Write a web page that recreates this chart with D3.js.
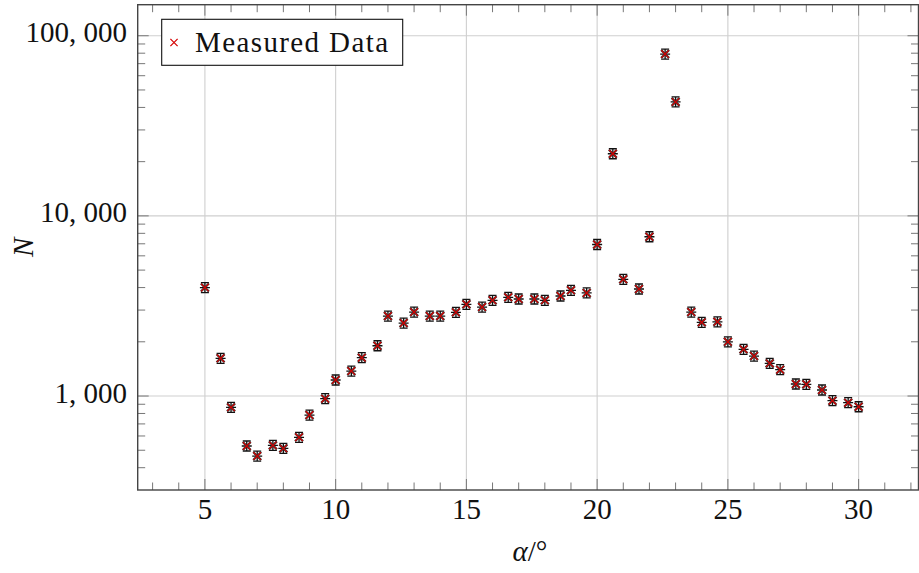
<!DOCTYPE html>
<html>
<head>
<meta charset="utf-8">
<script src="https://cdn.jsdelivr.net/npm/d3@7"></script>
<style>
  html, body { margin: 0; padding: 0; background: #fff; }
  svg text { font-family: "Liberation Serif", "Times New Roman", "DejaVu Serif", serif; fill: #111; }
</style>
</head>
<body>
<script>
var width = 919,
    height = 573;

// measured data: angle (deg) and counts
var alpha = [5, 5.6, 6, 6.6, 7, 7.6, 8, 8.6, 9, 9.6, 10, 10.6, 11, 11.6, 12, 12.6, 13, 13.6,
             14, 14.6, 15, 15.6, 16, 16.6, 17, 17.6, 18, 18.6, 19, 19.6, 20, 20.6, 21, 21.6,
             22, 22.6, 23, 23.6, 24, 24.6, 25, 25.6, 26, 26.6, 27, 27.6, 28, 28.6, 29, 29.6, 30];
var counts = [4000, 1620, 865, 528, 464, 532, 512, 590, 784, 966, 1227, 1376, 1632, 1901, 2778, 2541, 2924, 2778,
              2778, 2915, 3228, 3119, 3398, 3530, 3455, 3455, 3398, 3590, 3862, 3733, 6934, 22130, 4447, 3927,
              7656, 79100, 42950, 2924, 2565, 2583, 2000, 1816, 1667, 1518, 1400, 1166, 1161, 1080, 942, 918, 872];

var xTicks = [5, 10, 15, 20, 25, 30];
var yTicks = [1000, 10000, 100000];
var yTickLabels = ["1, 000", "10, 000", "100, 000"];
var legendLabel = "Measured Data";

var plotLeft = 137.7, plotRight = 918.5, plotTop = 4.7, plotBottom = 490;

var svg = d3.select("body").append("svg")
            .attr("width", width)
            .attr("height", height)
            .attr("font-family", "Liberation Serif, serif");

var x = d3.scaleLinear().domain([2.43, 32.29]).range([plotLeft, plotRight]);
var y = d3.scaleLog().domain([300.8, 148700]).range([plotBottom, plotTop]);

// minor ticks
var xMinor = d3.range(3, 33, 1).filter(function(d) { return xTicks.indexOf(d) < 0; });
var yMinor = [];
[100, 1000, 10000, 100000].forEach(function(dec) {
  for (var k = 2; k <= 9; k++) {
    var v = dec * k;
    if (v > 300.8 && v < 148700) yMinor.push(v);
  }
});

// grid
var grid = svg.append("g").attr("stroke", "#cfcfcf").attr("stroke-width", 1.1);
grid.selectAll(".gx").data(xTicks).enter().append("line")
    .attr("x1", function(d) { return x(d); }).attr("x2", function(d) { return x(d); })
    .attr("y1", plotTop).attr("y2", plotBottom);
grid.selectAll(".gy").data(yTicks).enter().append("line")
    .attr("y1", function(d) { return y(d); }).attr("y2", function(d) { return y(d); })
    .attr("x1", plotLeft).attr("x2", plotRight);

// ticks (inside, on all four sides)
var ticks = svg.append("g").attr("stroke", "#777").attr("stroke-width", 1);
xMinor.forEach(function(d) {
  ticks.append("line").attr("x1", x(d)).attr("x2", x(d)).attr("y1", plotBottom).attr("y2", plotBottom - 7.5);
  ticks.append("line").attr("x1", x(d)).attr("x2", x(d)).attr("y1", plotTop).attr("y2", plotTop + 7.5);
});
xTicks.forEach(function(d) {
  ticks.append("line").attr("x1", x(d)).attr("x2", x(d)).attr("y1", plotBottom).attr("y2", plotBottom - 11);
  ticks.append("line").attr("x1", x(d)).attr("x2", x(d)).attr("y1", plotTop).attr("y2", plotTop + 11);
});
yMinor.forEach(function(d) {
  ticks.append("line").attr("y1", y(d)).attr("y2", y(d)).attr("x1", plotLeft).attr("x2", plotLeft + 7.5);
  ticks.append("line").attr("y1", y(d)).attr("y2", y(d)).attr("x1", plotRight).attr("x2", plotRight - 7.5);
});
yTicks.forEach(function(d) {
  ticks.append("line").attr("y1", y(d)).attr("y2", y(d)).attr("x1", plotLeft).attr("x2", plotLeft + 11);
  ticks.append("line").attr("y1", y(d)).attr("y2", y(d)).attr("x1", plotRight).attr("x2", plotRight - 11);
});

// frame
svg.append("rect")
   .attr("x", plotLeft).attr("y", plotTop)
   .attr("width", plotRight - plotLeft).attr("height", plotBottom - plotTop)
   .attr("fill", "none").attr("stroke", "#444").attr("stroke-width", 1.4);

// tick labels
svg.selectAll(".xl").data(xTicks).enter().append("text")
   .attr("x", function(d) { return x(d); })
   .attr("y", 519)
   .attr("text-anchor", "middle")
   .style("font-size", "29px")
   .text(function(d) { return d; });

svg.selectAll(".yl").data(yTicks).enter().append("text")
   .attr("x", 127)
   .attr("y", function(d) { return y(d) + 6.5; })
   .attr("text-anchor", "end")
   .style("font-size", "29px")
   .text(function(d, i) { return yTickLabels[i]; });

// axis labels
svg.append("text")
   .attr("x", 530).attr("y", 561)
   .attr("text-anchor", "middle")
   .style("font-size", "29px")
   .html('<tspan font-style="italic">α</tspan>/°');

svg.append("text")
   .attr("transform", "translate(33," + ((plotTop + plotBottom) / 2) + ") rotate(-90)")
   .attr("text-anchor", "middle")
   .style("font-size", "29px")
   .attr("font-style", "italic")
   .text("N");

// markers: error bar glyph + red cross
function drawMarker(g) {
  g.append("path")
   .attr("d", "M0,-5.5V5.5M-4,-5H4M-4,5H4M-5,0H5")
   .attr("stroke", "#111").attr("stroke-width", 1.3).attr("fill", "none");
  g.append("path")
   .attr("d", "M-4,-4L4,4M-4,4L4,-4")
   .attr("stroke", "#333").attr("stroke-width", 2.2).attr("fill", "none");
  g.append("path")
   .attr("d", "M-3.8,-3.8L3.8,3.8M-3.8,3.8L3.8,-3.8")
   .attr("stroke", "#d40000").attr("stroke-width", 1.2).attr("fill", "none");
}

var pts = svg.append("g").selectAll("g")
   .data(alpha)
   .enter().append("g")
   .attr("transform", function(d, i) { return "translate(" + x(d) + "," + y(counts[i]) + ")"; });
pts.each(function() { drawMarker(d3.select(this)); });

// legend
var legend = svg.append("g");
legend.append("rect")
   .attr("x", 161.7).attr("y", 19.3)
   .attr("width", 241).attr("height", 46)
   .attr("fill", "#fff").attr("stroke", "#111").attr("stroke-width", 1.1);
legend.append("path")
   .attr("transform", "translate(174,42.5)")
   .attr("d", "M-3.6,-3.6L3.6,3.6M-3.6,3.6L3.6,-3.6")
   .attr("stroke", "#d40000").attr("stroke-width", 1.2);
legend.append("text")
   .attr("x", 195).attr("y", 52)
   .style("font-size", "29px")
   .attr("textLength", 193)
   .attr("lengthAdjust", "spacing")
   .text(legendLabel);
</script>
</body>
</html>
